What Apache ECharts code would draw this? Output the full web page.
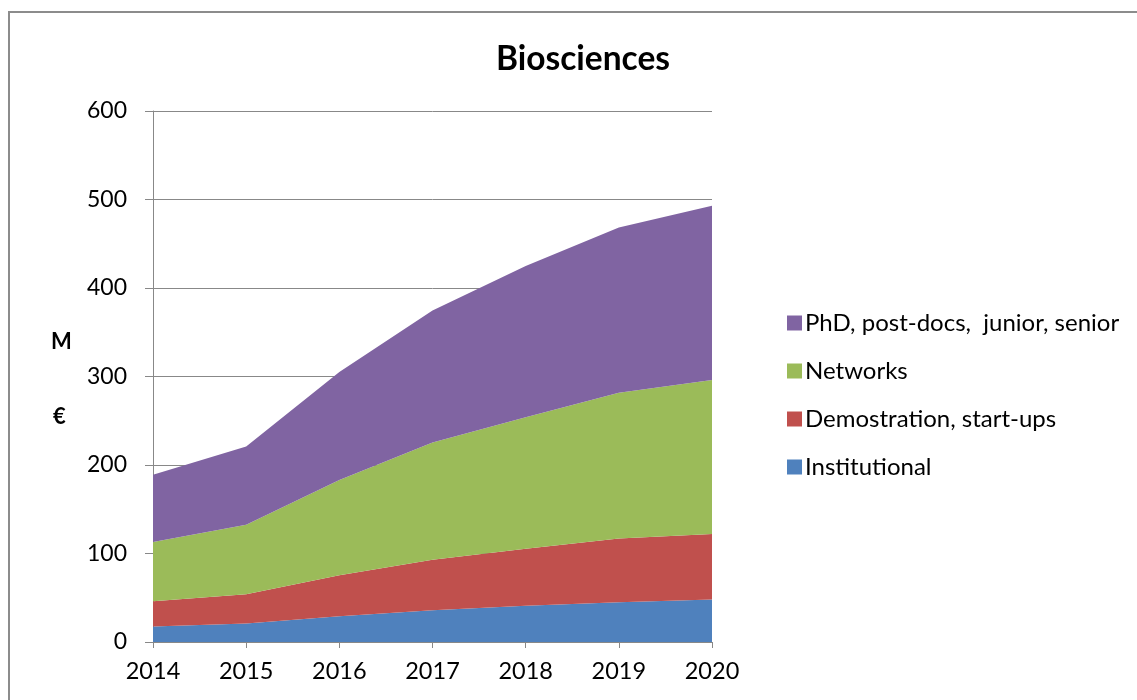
<!DOCTYPE html>
<html>
<head>
<meta charset="utf-8">
<style>
  html, body { margin: 0; padding: 0; background: #fff; }
  #frame { position: absolute; left: 8px; top: 11px; width: 1140px; height: 700px;
           border-left: 2px solid #8c8c8c; border-top: 2px solid #8c8c8c; }
  #main { position: absolute; left: 0; top: 0; width: 1137px; height: 700px; }
</style>
<script src="https://cdn.jsdelivr.net/npm/echarts@6/dist/echarts.min.js"></script>
</head>
<body>
<div id="frame"></div>
<div id="main"></div>
<script>
const years = ['2014', '2015', '2016', '2017', '2018', '2019', '2020'];
const institutional = [17.5, 21, 29, 36, 41, 45, 48];
const demonstration = [28.5, 33, 46.5, 57, 64.5, 72, 74];
const networks = [67, 78.5, 107.5, 132.5, 148.5, 164.5, 174];
const phd = [76, 88.5, 122, 149, 171, 187, 197];

const fontName = 'Lato, "Open Sans", sans-serif';

function areaSeries(name, data, color) {
    return {
        name: name,
        type: 'line',
        stack: 'total',
        data: data,
        symbol: 'none',
        lineStyle: { width: 0 },
        areaStyle: { color: color, opacity: 1 },
        itemStyle: { color: color }
    };
}

let myChart = echarts.init(document.getElementById('main'));

let option = {
    animation: false,
    textStyle: { fontFamily: fontName },
    title: {
        text: 'Biosciences',
        left: 578,
        textAlign: 'center',
        top: 37,
        textStyle: { fontSize: 33.5, fontWeight: 'bold', color: '#000', fontFamily: fontName }
    },
    legend: {
        orient: 'vertical',
        left: 782,
        top: 306,
        itemWidth: 15,
        itemHeight: 15,
        itemGap: 24,
        icon: 'rect',
        data: ['PhD, post-docs,  junior, senior', 'Networks', 'Demostration, start-ups', 'Institutional'],
        textStyle: { fontSize: 24, color: '#000', fontFamily: fontName, padding: [0, 0, 0, -2] }
    },
    graphic: [
        { type: 'text', left: 51, top: 331, style: { text: 'M', fontSize: 22, fontWeight: 'bold', fill: '#000', fontFamily: fontName } },
        { type: 'text', left: 53, top: 406, style: { text: '€', fontSize: 22, fontWeight: 'bold', fill: '#000', fontFamily: fontName } }
    ],
    grid: { left: 153, top: 111, right: 425, bottom: 58 },
    xAxis: {
        type: 'category',
        data: years,
        boundaryGap: false,
        axisLine: { lineStyle: { color: '#888', width: 1 } },
        axisTick: { show: true, length: 6, lineStyle: { color: '#888' } },
        axisLabel: { fontSize: 23.5, color: '#000', margin: 17, fontFamily: fontName }
    },
    yAxis: {
        type: 'value',
        min: 0,
        max: 600,
        interval: 100,
        axisLine: { show: true, lineStyle: { color: '#888', width: 1 } },
        axisTick: { show: true, length: 8, lineStyle: { color: '#888' } },
        splitLine: { lineStyle: { color: '#888', width: 1 } },
        axisLabel: { fontSize: 23, color: '#000', margin: 26, fontFamily: fontName }
    },
    series: [
        areaSeries('Institutional', institutional, '#4F81BD'),
        areaSeries('Demostration, start-ups', demonstration, '#C0504D'),
        areaSeries('Networks', networks, '#9BBB59'),
        areaSeries('PhD, post-docs,  junior, senior', phd, '#8064A2')
    ]
};

myChart.setOption(option);
</script>
</body>
</html>
